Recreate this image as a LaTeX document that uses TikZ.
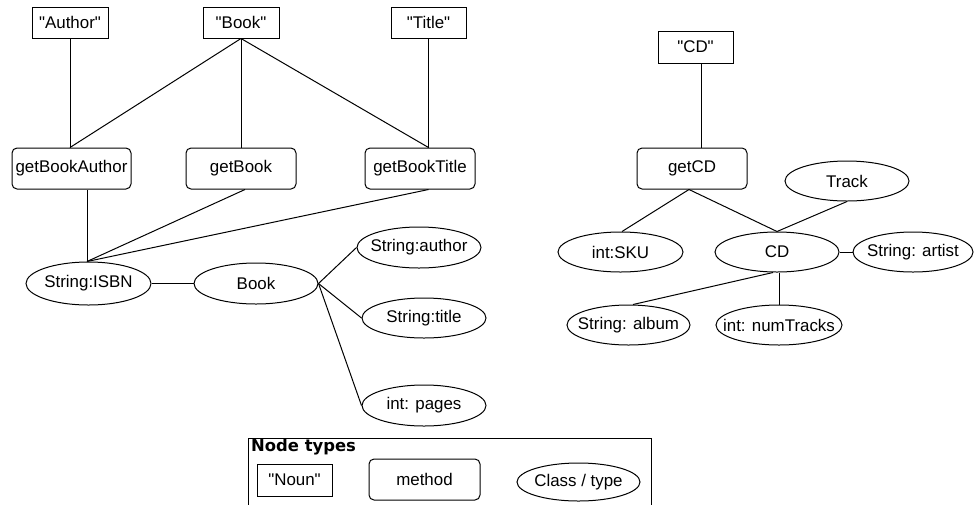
\documentclass[tikz,border=0pt]{standalone}
\usepackage{fontspec}
\setmainfont{Liberation Sans}
\newfontfamily\legendfont{DejaVu Sans}
\usetikzlibrary{shapes.geometric}
\newcommand{\q}{\textquotedbl}
\newcommand{\zb}[1]{\makebox[0pt][c]{#1}}
\tikzset{
  base/.style={draw=black, line width=1pt, inner sep=0pt, font=\fontsize{16.9}{20}\selectfont},
  noun/.style={base, rectangle},
  method/.style={base, rectangle, rounded corners=5pt},
  cls/.style={base, ellipse},
  conn/.style={line width=1pt, black}
}
\begin{document}
\begin{tikzpicture}[x=1pt, y=-1pt]
\useasboundingbox (0,0) rectangle (974,504);
% Book graph
\node[noun, minimum width=76pt, minimum height=31pt] (author) at (70,22.5) {\q Author\q};
\node[noun, minimum width=76pt, minimum height=31pt] (bookq) at (241,22.5) {\q Book\q};
\node[noun, minimum width=75pt, minimum height=31pt] (titleq) at (428.5,22.5) {\q Title\q};
\node[method, minimum width=119pt, minimum height=41pt] (gba) at (71.5,168.5) {getBookAuthor};
\node[method, minimum width=110pt, minimum height=41pt] (gb) at (241,168.5) {getBook};
\node[method, minimum width=110pt, minimum height=41pt] (gbt) at (420,168.5) {getBookTitle};
\node[cls, minimum width=125pt, minimum height=43pt] (isbn) at (88.5,283.5) {\zb{String:ISBN}};
\node[cls, minimum width=124pt, minimum height=41pt] (bookc) at (256,283.5) {\zb{Book}};
\node[cls, minimum width=124pt, minimum height=41pt] (sauthor) at (419,247.5) {\zb{String:author}};
\node[cls, minimum width=124pt, minimum height=40pt] (stitle) at (424,318) {\zb{String:title}};
\node[cls, minimum width=124pt, minimum height=41pt] (pages) at (424,405.5) {\zb{int: pages}};
\draw[conn] (author.south) -- (author.south |- gba.north);
\draw[conn] (bookq.south) -- (author.south |- gba.north);
\draw[conn] (bookq.south) -- (bookq.south |- gb.north);
\draw[conn] (bookq.south) -- (titleq.south |- gbt.north);
\draw[conn] (titleq.south) -- (titleq.south |- gbt.north);
\draw[conn] (isbn.north -| 87,0) -- (87,0 |- gba.south);
\draw[conn] (isbn.north -| 87,0) -- ([xshift=4pt]gb.south);
\draw[conn] (isbn.north -| 87,0) -- (titleq.south |- gbt.south);
\draw[conn] (isbn.east) -- (bookc.west);
\draw[conn] (bookc.east) -- (sauthor.west);
\draw[conn] (bookc.east) -- (stitle.west);
\draw[conn] (bookc.east) -- (pages.west);
% CD graph
\node[noun, minimum width=75pt, minimum height=32pt] (cdq) at (695.5,47) {\q CD\q};
\node[method, minimum width=110pt, minimum height=41pt] (gcd) at (692,168.5) {getCD};
\node[cls, minimum width=124pt, minimum height=40pt] (track) at (847,181) {\zb{Track}};
\node[cls, minimum width=125pt, minimum height=40pt] (sku) at (620.5,252) {\zb{int:SKU}};
\node[cls, minimum width=124pt, minimum height=40pt] (cd) at (777,252) {\zb{CD}};
\node[cls, minimum width=120pt, minimum height=40pt] (artist) at (913,252) {\zb{String: artist}};
\node[cls, minimum width=123pt, minimum height=40pt] (album) at (628.5,325) {\zb{String: album}};
\node[cls, minimum width=126pt, minimum height=40pt] (numt) at (779,325) {\zb{int: numTracks}};
\draw[conn] ([xshift=5.5pt]cdq.south) -- ([xshift=5.5pt]cdq.south |- gcd.north);
\draw[conn] ([xshift=-3pt]gcd.south) -- ([xshift=1.5pt]sku.north);
\draw[conn] ([xshift=-3pt]gcd.south) -- (cd.north);
\draw[conn] (track.south) -- (cd.north);
\draw[conn] (cd.east) -- (artist.west);
\draw[conn] ([xshift=-4pt]cd.south) -- ([xshift=4.5pt]album.north);
\draw[conn] ([xshift=2pt]cd.south) -- ([xshift=2pt]cd.south |- numt.north);
% Legend
\node[draw=black, line width=1pt, inner sep=0pt, minimum width=403pt, minimum height=70pt, anchor=north west] (legend) at (248,438) {};
\node[anchor=west, inner sep=0pt, font=\legendfont\bfseries\fontsize{16.4}{20}\selectfont] (ltitle) at (251,447.5) {Node types};
\node[noun, minimum width=75pt, minimum height=32pt] (lnoun) at (294.5,480) {\q Noun\q};
\node[method, minimum width=111pt, minimum height=41pt] (lmethod) at (424.5,479.5) {method};
\node[cls, minimum width=123pt, minimum height=38pt] (lclass) at (578.5,482) {\zb{Class / type}};
\end{tikzpicture}
\end{document}
